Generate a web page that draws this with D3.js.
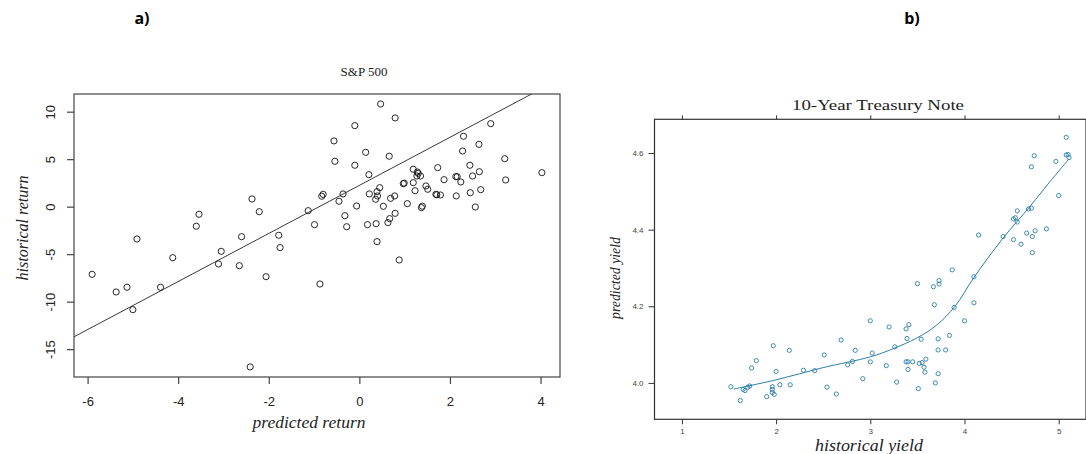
<!DOCTYPE html>
<html>
<head>
<meta charset="utf-8">
<script src="https://cdn.jsdelivr.net/npm/d3@7"></script>
<style>
body { margin: 0; background: #fff; }
svg { display: block; }
</style>
</head>
<body>
<svg id="chart" width="1086" height="454"></svg>
<script>
// a) S&P 500 : predicted vs historical return
var spPredicted = [-5.90,-5.37,-5.13,-5.00,-4.91,-4.39,-4.12,-3.60,-3.54,-3.05,-3.11,-2.65,-2.60,
  -2.37,-2.21,-2.41,-2.06,-1.78,-1.75,-1.13,-0.99,-0.87,-0.83,-0.80,-0.56,-0.54,-0.45,-0.36,-0.32,-0.28,
  -0.10,-0.10,-0.06,0.14,0.18,0.21,0.22,0.37,0.39,0.36,0.40,0.39,0.45,0.47,0.53,0.63,0.66,0.67,0.69,0.78,0.79,0.79,0.88,
  1.06,1.19,1.19,1.23,1.28,1.27,1.35,1.30,0.97,0.99,1.37,1.39,1.47,1.51,1.69,1.71,1.79,1.73,1.87,2.13,2.16,2.14,
  2.24,2.28,2.30,2.44,2.45,2.50,2.56,2.64,2.65,2.68,2.90,3.21,3.23,4.03];
var spHistorical = [-7.12,-8.98,-8.48,-10.84,-3.40,-8.48,-5.37,-2.06,-0.80,-4.70,-6.03,-6.21,-3.16,
  0.81,-0.53,-16.87,-7.37,-3.01,-4.31,-0.42,-1.89,-8.14,1.10,1.30,6.92,4.78,0.57,1.34,-0.95,-2.11,
  8.53,4.36,0.07,5.72,-1.89,3.37,1.34,-1.79,-3.68,0.78,1.13,1.58,2.00,10.81,0.04,-1.68,5.31,-1.26,0.88,1.13,9.34,-0.70,-5.61,
  0.32,3.94,2.53,1.68,3.65,3.23,3.23,3.51,2.42,2.48,-0.10,0.05,2.18,1.83,1.30,1.25,1.23,4.11,2.84,3.16,3.16,1.13,
  2.60,5.86,7.41,4.36,1.47,3.23,-0.03,6.56,3.68,1.79,8.74,5.05,2.81,3.58];
var spFit = { intercept: 2.24, slope: 2.53 };
var spXTicks = [-6, -4, -2, 0, 2, 4];
var spYTicks = [10, 5, 0, -5, -10, -15];

// b) 10-Year Treasury Note : historical vs predicted yield
var tnHistorical = [1.52,1.62,1.65,1.67,1.70,1.72,1.74,1.79,1.90,1.96,1.96,1.96,1.98,1.97,2.00,2.04,2.14,2.15,2.29,2.41,
  2.51,2.54,2.64,2.69,2.76,2.81,2.84,2.92,3.00,3.00,3.02,3.17,3.20,3.26,3.28,3.38,3.41,3.39,3.38,3.40,
  3.40,3.45,3.50,3.51,3.52,3.54,3.55,3.59,3.57,3.58,3.67,3.68,3.69,3.72,3.72,3.72,3.73,3.73,3.80,3.84,
  3.87,3.89,4.00,4.10,4.10,4.15,4.41,4.52,4.52,4.54,4.56,4.56,4.60,4.66,4.68,4.71,4.71,4.72,4.72,4.74,
  4.75,4.87,4.97,5.00,5.08,5.08,5.10,5.11];
var tnPredicted = [3.990,3.954,3.983,3.980,3.989,3.992,4.039,4.058,3.964,3.990,3.983,3.975,3.970,4.097,4.030,3.995,4.085,3.995,4.033,4.032,
  4.073,3.989,3.971,4.112,4.047,4.056,4.085,4.011,4.162,4.055,4.078,4.045,4.146,4.094,4.002,4.141,4.152,4.116,4.055,4.055,
  4.035,4.055,4.259,3.985,4.051,4.114,4.053,4.062,4.041,4.028,4.251,4.204,4.000,4.115,4.086,4.024,4.267,4.258,4.086,4.124,
  4.295,4.197,4.162,4.277,4.209,4.386,4.382,4.374,4.428,4.431,4.420,4.449,4.362,4.391,4.454,4.456,4.564,4.382,4.340,4.593,
  4.397,4.402,4.578,4.489,4.641,4.595,4.596,4.588];
// smoother
var tnSmoothX = [1.55,2.00,2.50,3.00,3.25,3.50,3.70,3.90,4.10,4.40,4.70,4.90,5.11];
var tnSmoothY = [3.984,4.008,4.040,4.068,4.090,4.118,4.150,4.200,4.275,4.375,4.462,4.523,4.585];
var tnXTicks = [1, 2, 3, 4, 5];
var tnYTicks = [4.0, 4.2, 4.4, 4.6];

var svg = d3.select('#chart');
var serif = "'Liberation Serif', 'DejaVu Serif', serif";
var sans = "'Liberation Sans', Arial, sans-serif";

// panel letters
svg.append('text').attr('x', 142).attr('y', 24).attr('text-anchor', 'middle')
  .attr('font-family', "'Open Sans', sans-serif").attr('font-weight', 'bold').attr('font-size', 16)
  .text('a)');
svg.append('text').attr('x', 912).attr('y', 24).attr('text-anchor', 'middle')
  .attr('font-family', "'Open Sans', sans-serif").attr('font-weight', 'bold').attr('font-size', 16)
  .text('b)');

// ---------- left panel ----------
var L = { left: 74, right: 560, top: 94, bottom: 377 };
var lx = d3.scaleLinear().domain([-6.30, 4.43]).range([L.left, L.right]);
var ly = d3.scaleLinear().domain([-17.93, 11.86]).range([L.bottom, L.top]);

svg.append('clipPath').attr('id', 'clipL').append('rect')
  .attr('x', L.left).attr('y', L.top).attr('width', L.right - L.left).attr('height', L.bottom - L.top);

var gl = svg.append('g');

// fitted line
var fitX = lx.domain();
gl.append('line')
  .attr('clip-path', 'url(#clipL)')
  .attr('x1', lx(fitX[0])).attr('y1', ly(spFit.intercept + spFit.slope * fitX[0]))
  .attr('x2', lx(fitX[1])).attr('y2', ly(spFit.intercept + spFit.slope * fitX[1]))
  .attr('stroke', '#222').attr('stroke-width', 0.9);

gl.selectAll('circle.sp')
  .data(d3.range(spPredicted.length))
  .enter().append('circle')
  .attr('class', 'sp')
  .attr('cx', function(i){ return lx(spPredicted[i]); })
  .attr('cy', function(i){ return ly(spHistorical[i]); })
  .attr('r', 3.1)
  .attr('fill', 'none')
  .attr('stroke', '#111')
  .attr('stroke-width', 0.9);

gl.append('rect')
  .attr('x', L.left).attr('y', L.top).attr('width', L.right - L.left).attr('height', L.bottom - L.top)
  .attr('fill', 'none').attr('stroke', '#444').attr('stroke-width', 1.2);

var lxAxis = svg.append('g').attr('transform', 'translate(0,' + L.bottom + ')')
  .call(d3.axisBottom(lx).tickValues(spXTicks).tickSize(7).tickSizeOuter(0).tickPadding(13)
    .tickFormat(function(d){ return String(d); }));
lxAxis.select('.domain').remove();
lxAxis.selectAll('line').attr('stroke', '#444').attr('stroke-width', 1.2);
lxAxis.selectAll('text').attr('font-family', sans).attr('font-size', 13).attr('fill', '#222');

var lyAxis = svg.append('g').attr('transform', 'translate(' + L.left + ',0)')
  .call(d3.axisLeft(ly).tickValues(spYTicks).tickSize(7).tickSizeOuter(0)
    .tickFormat(function(d){ return String(d); }));
lyAxis.select('.domain').remove();
lyAxis.selectAll('line').attr('stroke', '#444').attr('stroke-width', 1.2);
lyAxis.selectAll('text')
  .attr('font-family', sans).attr('font-size', 13).attr('fill', '#222')
  .attr('text-anchor', 'middle').attr('x', 0).attr('y', -19.5).attr('dy', null)
  .attr('transform', 'rotate(-90)');

svg.append('text').attr('x', 364).attr('y', 76).attr('text-anchor', 'middle')
  .attr('font-family', serif).attr('font-size', 13).attr('fill', '#222').text('S&P 500');
svg.append('text').attr('x', 309).attr('y', 428).attr('text-anchor', 'middle')
  .attr('font-family', serif).attr('font-style', 'italic').attr('font-size', 16).attr('fill', '#222')
  .attr('textLength', 113).attr('lengthAdjust', 'spacingAndGlyphs')
  .text('predicted return');
svg.append('text').attr('transform', 'translate(28,228) rotate(-90)').attr('text-anchor', 'middle')
  .attr('font-family', serif).attr('font-style', 'italic').attr('font-size', 16).attr('fill', '#222')
  .attr('textLength', 105).attr('lengthAdjust', 'spacingAndGlyphs')
  .text('historical return');

// ---------- right panel ----------
var R = { left: 654.5, right: 1086, top: 119.3, bottom: 419.3 };
var rx = d3.scaleLinear().domain([0.709, 5.29]).range([R.left, R.right]);
var ry = d3.scaleLinear().domain([3.905, 4.688]).range([R.bottom, R.top]);
var teal = '#2b7fa8';

var gr = svg.append('g');

gr.append('path')
  .datum(d3.range(tnSmoothX.length))
  .attr('d', d3.line()
    .x(function(i){ return rx(tnSmoothX[i]); })
    .y(function(i){ return ry(tnSmoothY[i]); })
    .curve(d3.curveCatmullRom))
  .attr('fill', 'none').attr('stroke', teal).attr('stroke-width', 1);

gr.selectAll('circle.tn')
  .data(d3.range(tnHistorical.length))
  .enter().append('circle')
  .attr('class', 'tn')
  .attr('cx', function(i){ return rx(tnHistorical[i]); })
  .attr('cy', function(i){ return ry(tnPredicted[i]); })
  .attr('r', 2.1)
  .attr('fill', 'none')
  .attr('stroke', teal)
  .attr('stroke-width', 0.9);

gr.append('rect')
  .attr('x', R.left).attr('y', R.top).attr('width', R.right - R.left).attr('height', R.bottom - R.top)
  .attr('fill', 'none').attr('stroke', '#333').attr('stroke-width', 1.2);

var rxAxis = svg.append('g').attr('transform', 'translate(0,' + R.bottom + ')')
  .call(d3.axisBottom(rx).tickValues(tnXTicks).tickSize(5).tickSizeOuter(0).tickPadding(4)
    .tickFormat(d3.format('d')));
rxAxis.select('.domain').remove();
rxAxis.selectAll('line').attr('stroke', '#333');
rxAxis.selectAll('text').attr('font-family', sans).attr('font-size', 8).attr('fill', '#444');

var rxTop = svg.append('g').attr('transform', 'translate(0,' + R.top + ')')
  .call(d3.axisTop(rx).tickValues(tnXTicks).tickSize(4).tickSizeOuter(0).tickFormat(''));
rxTop.select('.domain').remove();
rxTop.selectAll('line').attr('stroke', '#333');

var ryAxis = svg.append('g').attr('transform', 'translate(' + R.left + ',0)')
  .call(d3.axisLeft(ry).tickValues(tnYTicks).tickSize(6).tickSizeOuter(0).tickPadding(5)
    .tickFormat(d3.format('.1f')));
ryAxis.select('.domain').remove();
ryAxis.selectAll('line').attr('stroke', '#333');
ryAxis.selectAll('text').attr('font-family', sans).attr('font-size', 8).attr('fill', '#444');

svg.append('text').attr('x', 878).attr('y', 110).attr('text-anchor', 'middle')
  .attr('font-family', serif).attr('font-size', 15).attr('fill', '#222')
  .attr('textLength', 172).attr('lengthAdjust', 'spacingAndGlyphs')
  .text('10-Year Treasury Note');
svg.append('text').attr('x', 869).attr('y', 451).attr('text-anchor', 'middle')
  .attr('font-family', serif).attr('font-style', 'italic').attr('font-size', 16).attr('fill', '#222')
  .attr('textLength', 108).attr('lengthAdjust', 'spacingAndGlyphs')
  .text('historical yield');
svg.append('text').attr('transform', 'translate(620,278) rotate(-90)').attr('text-anchor', 'middle')
  .attr('font-family', serif).attr('font-style', 'italic').attr('font-size', 14).attr('fill', '#222')
  .attr('textLength', 82).attr('lengthAdjust', 'spacingAndGlyphs')
  .text('predicted yield');
</script>
</body>
</html>
